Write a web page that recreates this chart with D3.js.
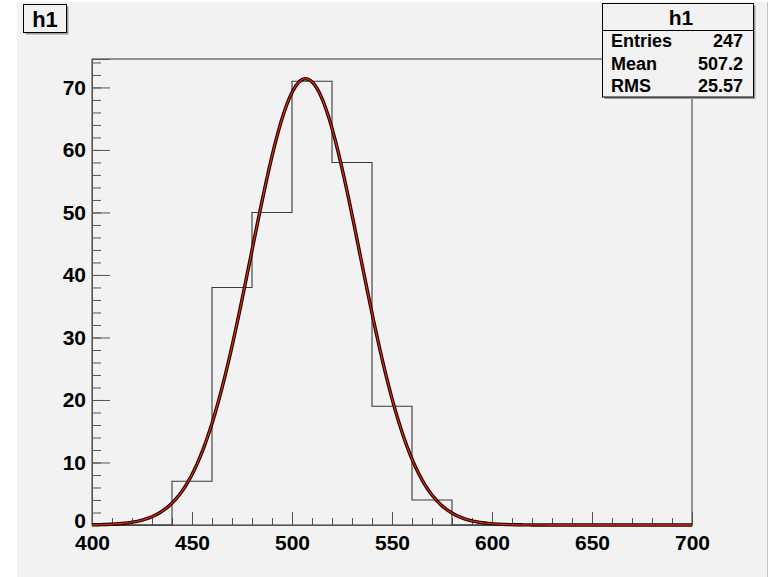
<!DOCTYPE html>
<html>
<head>
<meta charset="utf-8">
<script src="https://cdn.jsdelivr.net/npm/d3@7"></script>
<style>
  html, body { margin: 0; padding: 0; background: #ffffff; }
  svg { display: block; }
  text { font-family: "Liberation Sans", Arial, Helvetica, sans-serif; font-weight: bold; fill: #000; }
</style>
</head>
<body>
<svg id="chart" width="771" height="577"></svg>
<script>
// Histogram h1: 15 bins of width 20 between 400 and 700
const binLow = [400, 420, 440, 460, 480, 500, 520, 540, 560, 580, 600, 620, 640, 660, 680];
const binCounts = [0, 0, 7, 38, 50, 71, 58, 19, 4, 0, 0, 0, 0, 0, 0];
const binWidth = 20;

// Gaussian fit parameters: constant, mean, sigma
const fitConstant = 71.4;
const fitMean = 506.8;
const fitSigma = 27.2;

// Axis ticks
const xMajorTicks = [400, 450, 500, 550, 600, 650, 700];
const yMajorTicks = [0, 10, 20, 30, 40, 50, 60, 70];

// Statistics box rows
const statLabels = ["Entries", "Mean", "RMS"];
const statValues = ["247", "507.2", "25.57"];
const histTitle = "h1";

const svg = d3.select("#chart");
const W = 771, H = 577;

// canvas background
svg.append("rect").attr("x", 17).attr("y", 2).attr("width", 750).attr("height", H - 2).attr("fill", "#f2f2f2");
svg.append("line").attr("x1", 767.5).attr("x2", 767.5).attr("y1", 2).attr("y2", H)
  .attr("stroke", "#c4c4c4").attr("stroke-width", 1);

const yMax = d3.max(binCounts) * 1.05;
const x = d3.scaleLinear().domain([400, 700]).range([92, 692]);
const y = d3.scaleLinear().domain([0, yMax]).range([525, 59]);

// frame
svg.append("rect")
  .attr("x", x(400)).attr("y", y(yMax))
  .attr("width", x(700) - x(400)).attr("height", y(0) - y(yMax))
  .attr("fill", "none").attr("stroke", "#333").attr("stroke-width", 1);

// minor ticks
const xMinor = d3.range(400, 701, 10);
const yMinor = d3.range(0, yMax, 2);

const axisStyle = g => {
  g.select(".domain").attr("stroke", "#555");
  g.selectAll(".tick line").attr("stroke", "#555");
  g.selectAll("text").attr("font-size", 21).attr("font-family", "Liberation Sans, Arial, sans-serif")
    .attr("font-weight", "bold").attr("fill", "#000");
};

svg.append("g").attr("transform", `translate(0,${y(0)})`)
  .call(d3.axisBottom(x).tickValues(xMinor).tickSize(-7).tickFormat(""))
  .call(axisStyle);
svg.append("g").attr("transform", `translate(0,${y(0)})`)
  .call(d3.axisBottom(x).tickValues(xMajorTicks).tickSize(-13).tickPadding(8).tickFormat(d3.format("d")))
  .call(axisStyle)
  .call(g => g.selectAll("text").attr("dy", "0.71em").attr("y", 10));

svg.append("g").attr("transform", `translate(${x(400)},0)`)
  .call(d3.axisLeft(y).tickValues(yMinor).tickSize(-9).tickFormat(""))
  .call(axisStyle);
svg.append("g").attr("transform", `translate(${x(400)},0)`)
  .call(d3.axisLeft(y).tickValues(yMajorTicks).tickSize(-18).tickPadding(6).tickFormat(d3.format("d")))
  .call(axisStyle)
  .call(g => g.selectAll("text").filter(d => d === 0).attr("dy", "0.12em"));

// histogram outline as steps
const steps = [];
binLow.forEach((lo, i) => {
  steps.push([lo, binCounts[i]]);
  steps.push([lo + binWidth, binCounts[i]]);
});
const stepPts = [[400, 0], ...steps, [700, 0]];
svg.append("path")
  .attr("d", d3.line().x(d => x(d[0])).y(d => y(d[1]))(stepPts))
  .attr("fill", "none").attr("stroke", "#3a3a3a").attr("stroke-width", 1.1);

// Gaussian fit curve, sampled across the histogram range
const gaus = v => fitConstant * Math.exp(-0.5 * Math.pow((v - fitMean) / fitSigma, 2));
const fitPts = d3.range(400, 700.01, 1.5).map(v => [v, gaus(v)]);
const fitLine = d3.line().x(d => x(d[0])).y(d => y(d[1])).curve(d3.curveLinear);
svg.append("path").attr("d", fitLine(fitPts))
  .attr("fill", "none").attr("stroke", "#1a0000").attr("stroke-width", 3.4).attr("stroke-linejoin", "round");
svg.append("path").attr("d", fitLine(fitPts))
  .attr("fill", "none").attr("stroke", "#d42a10").attr("stroke-width", 1.3).attr("stroke-linejoin", "round");

// title box
svg.append("rect").attr("x", 25.5).attr("y", 6.5).attr("width", 43).attr("height", 28).attr("fill", "#9a9a9a");
svg.append("rect").attr("x", 23.5).attr("y", 4.5).attr("width", 43).attr("height", 28)
  .attr("fill", "#f2f2f2").attr("stroke", "#000").attr("stroke-width", 1);
svg.append("text").attr("x", 45).attr("y", 27).attr("text-anchor", "middle")
  .attr("font-size", 22).text(histTitle);

// statistics box
const sx0 = 602.5, sx1 = 753.5, sy0 = 3.5, sy1 = 97;
svg.append("rect").attr("x", sx0 + 2).attr("y", sy0 + 2).attr("width", sx1 - sx0).attr("height", sy1 - sy0).attr("fill", "#9a9a9a");
svg.append("rect").attr("x", sx0).attr("y", sy0).attr("width", sx1 - sx0).attr("height", sy1 - sy0)
  .attr("fill", "#f2f2f2").attr("stroke", "#000").attr("stroke-width", 1);
svg.append("line").attr("x1", sx0).attr("x2", sx1).attr("y1", 30.5).attr("y2", 30.5)
  .attr("stroke", "#000").attr("stroke-width", 1);
svg.append("text").attr("x", 681).attr("y", 25).attr("text-anchor", "middle")
  .attr("font-size", 21).text(histTitle);

const rowBase = [47, 70, 92];
svg.selectAll("text.statlab").data(statLabels).enter().append("text")
  .attr("class", "statlab").attr("x", 611).attr("y", (d, i) => rowBase[i])
  .attr("font-size", 18).text(d => d);
svg.selectAll("text.statval").data(statValues).enter().append("text")
  .attr("class", "statval").attr("x", 743).attr("y", (d, i) => rowBase[i])
  .attr("text-anchor", "end").attr("font-size", 18).text(d => d);
</script>
</body>
</html>
